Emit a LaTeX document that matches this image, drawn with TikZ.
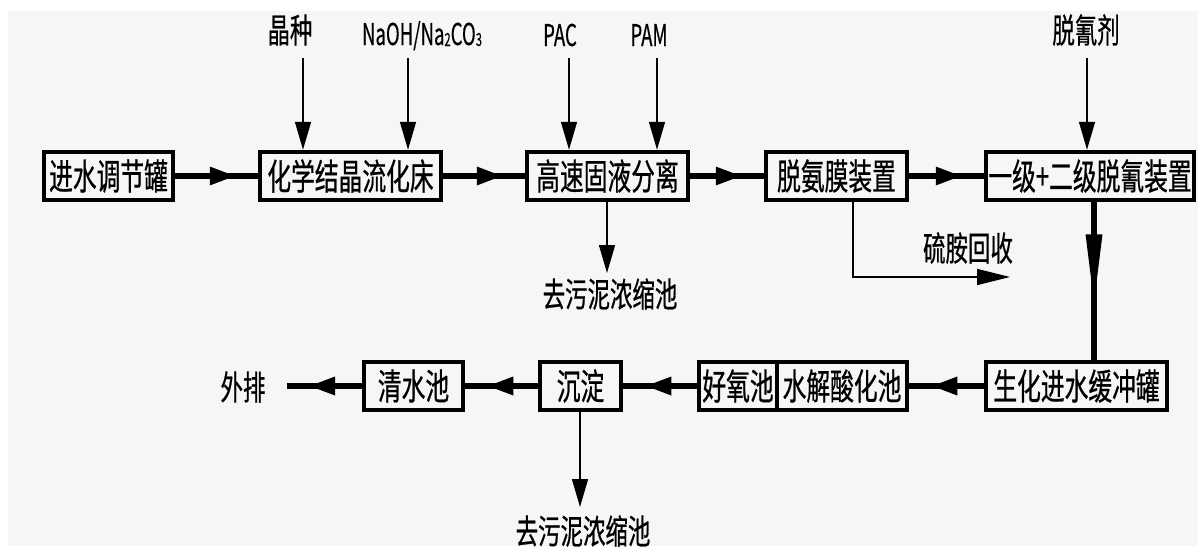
\documentclass[tikz,border=0pt]{standalone}
\usepackage{fontspec}
\newfontfamily\cjk[FakeStretch=0.66,FakeBold=0.6]{Noto Sans CJK SC}
\newfontfamily\latn[FakeStretch=0.62,FakeBold=0.4]{Noto Sans CJK SC}
\usetikzlibrary{arrows.meta,decorations.markings,calc}
\definecolor{bgray}{HTML}{F6F6F6}
\newcommand\bxfont{\cjk\fontsize{36}{36}\selectfont}
\newcommand\lbfont{\cjk\fontsize{34}{34}\selectfont}
\newcommand\ltfont{\latn\fontsize{30}{30}\selectfont}
\newcommand\subsc[1]{\raisebox{-1pt}{\fontsize{18}{18}\selectfont #1}}
\begin{document}
\begin{tikzpicture}[x=1pt,y=-1pt,
  box/.style={draw, line width=4.5pt, minimum height=48pt, inner sep=0pt, font=\bxfont},
  lbl/.style={inner sep=0pt, font=\lbfont},
  ltn/.style={inner sep=0pt, font=\ltfont, anchor=base},
  flow/.style={line width=6pt, postaction={decorate},
    decoration={markings, mark=at position -23pt with {\fill (0pt,0pt) -- (-25pt,9.5pt) -- (-25pt,-9.5pt) -- cycle;}}},
  vflow/.style={line width=6pt, postaction={decorate},
    decoration={markings, mark=at position 100pt with {\fill (0pt,0pt) -- (-68pt,8.5pt) -- (-68pt,-8.5pt) -- cycle;}}},
  feed/.style={line width=1.5pt, -{Triangle[length=28pt,width=16pt]}},
]
\fill[white] (0,0) rectangle (1198,546);
\fill[bgray] (8,11) rectangle (1198,546);
\useasboundingbox (0,0) rectangle (1198,546);

% top row
\node[box, minimum width=129pt] (n1) at (108.5,176) {进水调节罐};
\node[box, minimum width=181pt] (n2) at (350.5,176) {化学结晶流化床};
\node[box, minimum width=161pt] (n3) at (607.5,176) {高速固液分离};
\node[box, minimum width=141pt] (n4) at (836.5,176) {脱氨膜装置};
\node[box, minimum width=208pt] (n5) at (1090,176) {一级+二级脱氰装置};

% bottom row
\node[box, minimum width=181pt] (b1) at (1076.5,386) {生化进水缓冲罐};
\node[box, minimum width=130pt] (b2) at (842,386) {水解酸化池};
\node[box, minimum width=78pt] (b3) at (738,386) {好氧池};
\node[box, minimum width=81pt] (b4) at (580.5,386) {沉淀};
\node[box, minimum width=99pt] (b5) at (413.5,386) {清水池};

% top labels
\node[lbl] (l1) at (290,30) {晶种};
\node[ltn] (l2) at (422,45) {NaOH/Na\subsc{2}CO\subsc{3}};
\node[ltn] (l3) at (560,46) {PAC};
\node[ltn] (l4) at (649,46) {PAM};
\node[lbl] (l5) at (1086,30) {脱氰剂};

\coordinate (f1) at (303,58);
\coordinate (f2) at (408,58);
\coordinate (f3) at (569,58);
\coordinate (f4) at (657,58);
\coordinate (f5) at (1087,58);
\draw[feed] (f1) -- (f1 |- n2.north);
\draw[feed] (f2) -- (f2 |- n2.north);
\draw[feed] (f3) -- (f3 |- n3.north);
\draw[feed] (f4) -- (f4 |- n3.north);
\draw[feed] (f5) -- (f5 |- n5.north);

% main flow
\draw[flow] (n1.east) -- (n2.west);
\draw[flow] (n2.east) -- (n3.west);
\draw[flow] (n3.east) -- (n4.west);
\draw[flow] (n4.east) -- (n5.west);
\coordinate (v) at ($(n5.south)+(4,0)$);
\draw[vflow] (v) -- (v |- b1.north);
\draw[flow] (b1.west) -- (b2.east);
\draw[flow] (b3.west) -- (b4.east);
\draw[flow] (b4.west) -- (b5.east);
\coordinate (out) at (287,386);
\draw[flow] (b5.west) -- (out);
\node[lbl] (o1) at (243,387) {外排};

% sludge and side streams
\coordinate (s1e) at (607,273);
\draw[feed] (s1e |- n3.south) -- (s1e);
\node[lbl] (t1) at (610,294) {去污泥浓缩池};

\coordinate (s2) at (853,277);
\coordinate (s2e) at (1010,277);
\draw[line width=1.5pt, -{Triangle[length=33pt,width=16pt]}] (s2 |- n4.south) -- (s2) -- (s2e);
\node[lbl] (t2) at (968,248) {硫胺回收};

\coordinate (s3e) at (580,507);
\draw[feed] (s3e |- b4.south) -- (s3e);
\node[lbl] (t3) at (583,531) {去污泥浓缩池};
\end{tikzpicture}
\end{document}
